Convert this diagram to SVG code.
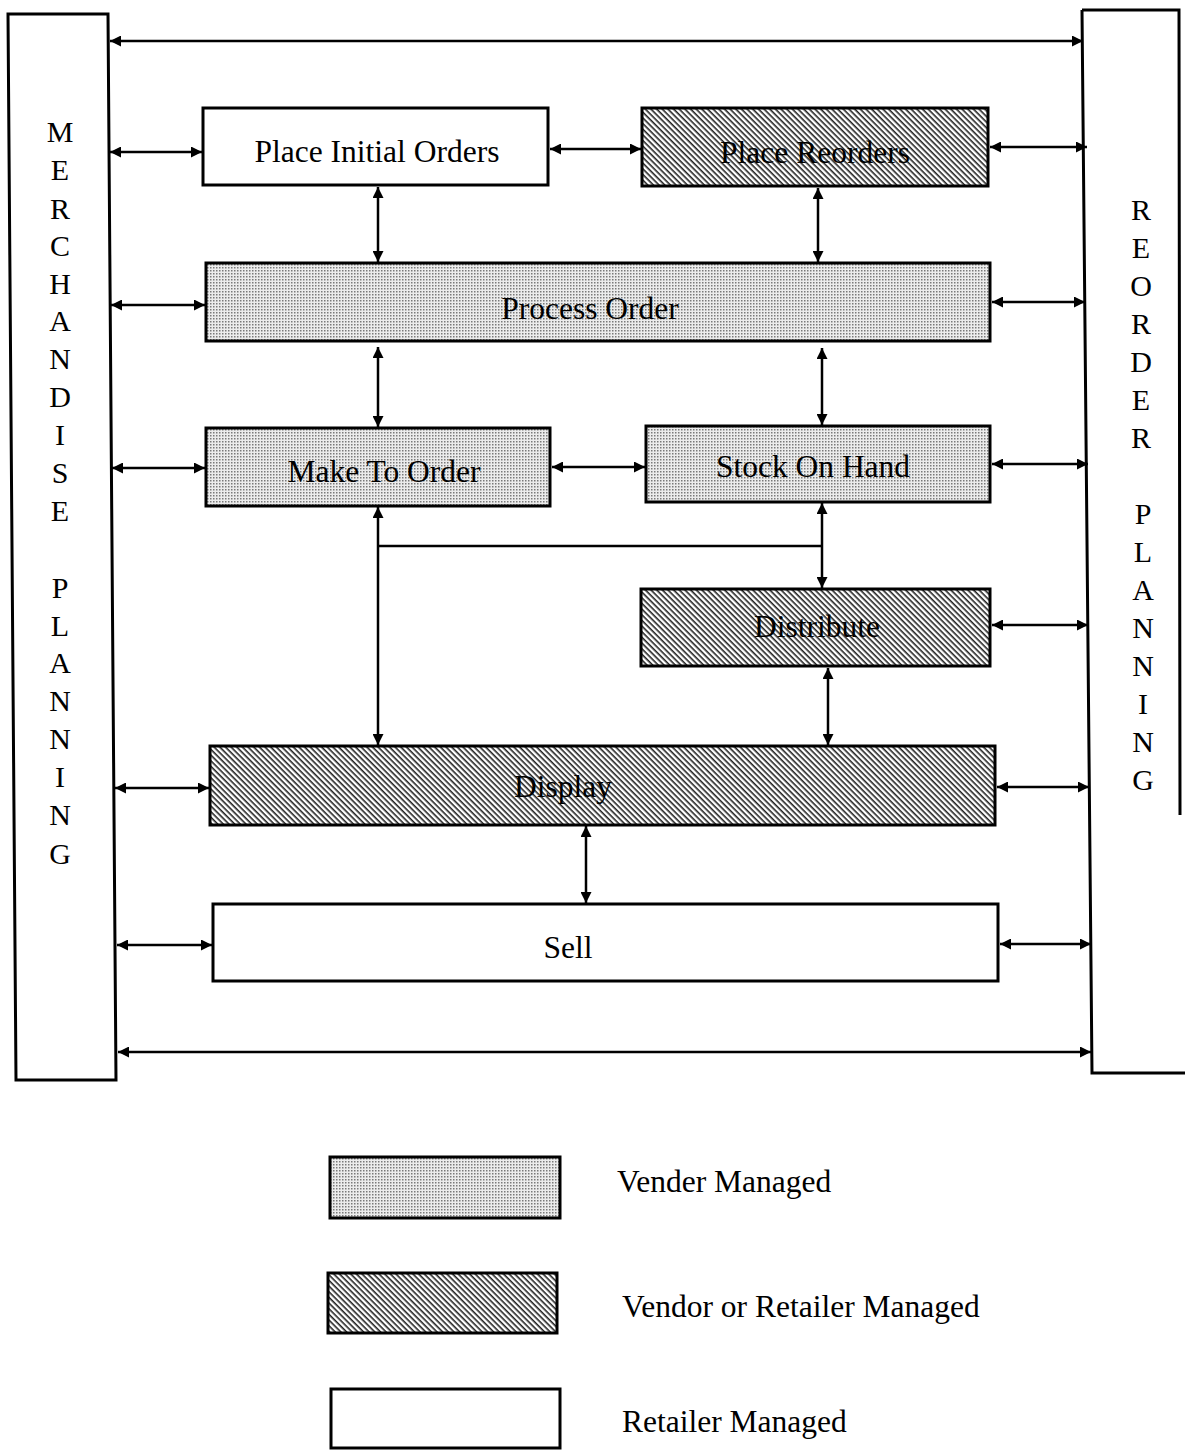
<svg xmlns="http://www.w3.org/2000/svg" width="1185" height="1450" viewBox="0 0 1185 1450">
<style>
.box{stroke:#000;stroke-width:3}
.white{fill:#fff}
.dot{fill:url(#dots)}
.hatch{fill:url(#hatch)}
.lbl{font-family:"Liberation Serif","Times New Roman",serif;font-size:31.5px;fill:#000;text-anchor:middle}
.vl{font-family:"Liberation Serif","Times New Roman",serif;font-size:30px;fill:#000;text-anchor:middle}
.c{stroke:#000;stroke-width:2.5;fill:none}
.a{marker-start:url(#ah);marker-end:url(#ah)}
.panel{fill:#fff;stroke:#000;stroke-width:3}
</style>
<defs>
<pattern id="dots" width="3" height="3" patternUnits="userSpaceOnUse">
<rect width="3" height="3" fill="#ececec"/>
<rect width="1.5" height="1.5" fill="#7a7a7a"/>
</pattern>
<pattern id="hatch" width="4" height="4" patternUnits="userSpaceOnUse" patternTransform="rotate(45)">
<rect width="4" height="4" fill="#fff"/>
<rect width="4" height="1.6" fill="#222"/>
</pattern>
<marker id="ah" viewBox="0 0 10 10" refX="10" refY="5" markerWidth="12" markerHeight="11" markerUnits="userSpaceOnUse" orient="auto-start-reverse">
<path d="M0,0 L10,5 L0,10 z" fill="#000"/>
</marker>
</defs>

<g id="merchandise-planning">
<polygon class="panel" points="8,14 108,14 116,1080 16,1080"/>
<g class="vl">
<text x="60" y="142">M</text>
<text x="60" y="180">E</text>
<text x="60" y="219">R</text>
<text x="60" y="256">C</text>
<text x="60" y="294">H</text>
<text x="60" y="331">A</text>
<text x="60" y="369">N</text>
<text x="60" y="407">D</text>
<text x="60" y="445">I</text>
<text x="60" y="483">S</text>
<text x="60" y="521">E</text>
<text x="60" y="598">P</text>
<text x="60" y="636">L</text>
<text x="60" y="673">A</text>
<text x="60" y="711">N</text>
<text x="60" y="749">N</text>
<text x="60" y="787">I</text>
<text x="60" y="825">N</text>
<text x="60" y="864">G</text>
</g>
</g>

<g id="reorder-planning">
<rect x="1084" y="12" width="94" height="1059" fill="#fff" stroke="none"/>
<path d="M1082,10 L1179,10 L1180,815 M1082,10 L1092,1073 L1185,1073" fill="none" stroke="#000" stroke-width="3"/>
<g class="vl">
<text x="1141" y="220">R</text>
<text x="1141" y="258">E</text>
<text x="1141" y="296">O</text>
<text x="1141" y="334">R</text>
<text x="1141" y="372">D</text>
<text x="1141" y="410">E</text>
<text x="1141" y="448">R</text>
<text x="1143" y="524">P</text>
<text x="1143" y="562">L</text>
<text x="1143" y="600">A</text>
<text x="1143" y="638">N</text>
<text x="1143" y="676">N</text>
<text x="1143" y="714">I</text>
<text x="1143" y="752">N</text>
<text x="1143" y="790">G</text>
</g>
</g>

<g id="place-initial-orders">
<rect class="box white" x="203" y="108" width="345" height="77"/>
<text class="lbl" x="377" y="162">Place Initial Orders</text>
</g>
<g id="place-reorders">
<rect class="box hatch" x="642" y="108" width="346" height="78"/>
<text class="lbl" x="815" y="163">Place Reorders</text>
</g>
<g id="process-order">
<rect class="box dot" x="206" y="263" width="784" height="78"/>
<text class="lbl" x="590" y="319">Process Order</text>
</g>
<g id="make-to-order">
<rect class="box dot" x="206" y="428" width="344" height="78"/>
<text class="lbl" x="384" y="482">Make To Order</text>
</g>
<g id="stock-on-hand">
<rect class="box dot" x="646" y="426" width="344" height="76"/>
<text class="lbl" x="813" y="477">Stock On Hand</text>
</g>
<g id="distribute">
<rect class="box hatch" x="641" y="589" width="349" height="77"/>
<text class="lbl" x="817" y="637">Distribute</text>
</g>
<g id="display">
<rect class="box hatch" x="210" y="746" width="785" height="79"/>
<text class="lbl" x="563" y="797">Display</text>
</g>
<g id="sell">
<rect class="box white" x="213" y="904" width="785" height="77"/>
<text class="lbl" x="568" y="958">Sell</text>
</g>

<g id="connectors">
<line class="c a" x1="110" y1="41" x2="1083" y2="41"/>
<line class="c a" x1="118" y1="1052" x2="1091" y2="1052"/>
<line class="c a" x1="110" y1="152" x2="202" y2="152"/>
<line class="c a" x1="111" y1="305" x2="205" y2="305"/>
<line class="c a" x1="112" y1="468" x2="205" y2="468"/>
<line class="c a" x1="115" y1="788" x2="209" y2="788"/>
<line class="c a" x1="117" y1="945" x2="212" y2="945"/>
<line class="c a" x1="990" y1="147" x2="1087" y2="147"/>
<line class="c a" x1="992" y1="302" x2="1085" y2="302"/>
<line class="c a" x1="992" y1="464" x2="1088" y2="464"/>
<line class="c a" x1="992" y1="625" x2="1088" y2="625"/>
<line class="c a" x1="997" y1="787" x2="1089" y2="787"/>
<line class="c a" x1="1000" y1="944" x2="1091" y2="944"/>
<line class="c a" x1="550" y1="149" x2="641" y2="149"/>
<line class="c a" x1="552" y1="467" x2="645" y2="467"/>
<line class="c a" x1="378" y1="187" x2="378" y2="262"/>
<line class="c a" x1="818" y1="188" x2="818" y2="262"/>
<line class="c a" x1="378" y1="347" x2="378" y2="427"/>
<line class="c a" x1="822" y1="348" x2="822" y2="425"/>
<line class="c a" x1="378" y1="507" x2="378" y2="745"/>
<line class="c" x1="378" y1="546" x2="822" y2="546"/>
<line class="c a" x1="822" y1="503" x2="822" y2="588"/>
<line class="c a" x1="828" y1="668" x2="828" y2="745"/>
<line class="c a" x1="586" y1="826" x2="586" y2="903"/>
</g>

<g id="legend">
<rect class="box dot" x="330" y="1157" width="230" height="61"/>
<text class="lbl" x="617" y="1192" style="text-anchor:start">Vender Managed</text>
<rect class="box hatch" x="328" y="1273" width="229" height="60"/>
<text class="lbl" x="622" y="1317" style="text-anchor:start">Vendor or Retailer Managed</text>
<rect class="box white" x="331" y="1389" width="229" height="59"/>
<text class="lbl" x="622" y="1432" style="text-anchor:start">Retailer Managed</text>
</g>
</svg>
